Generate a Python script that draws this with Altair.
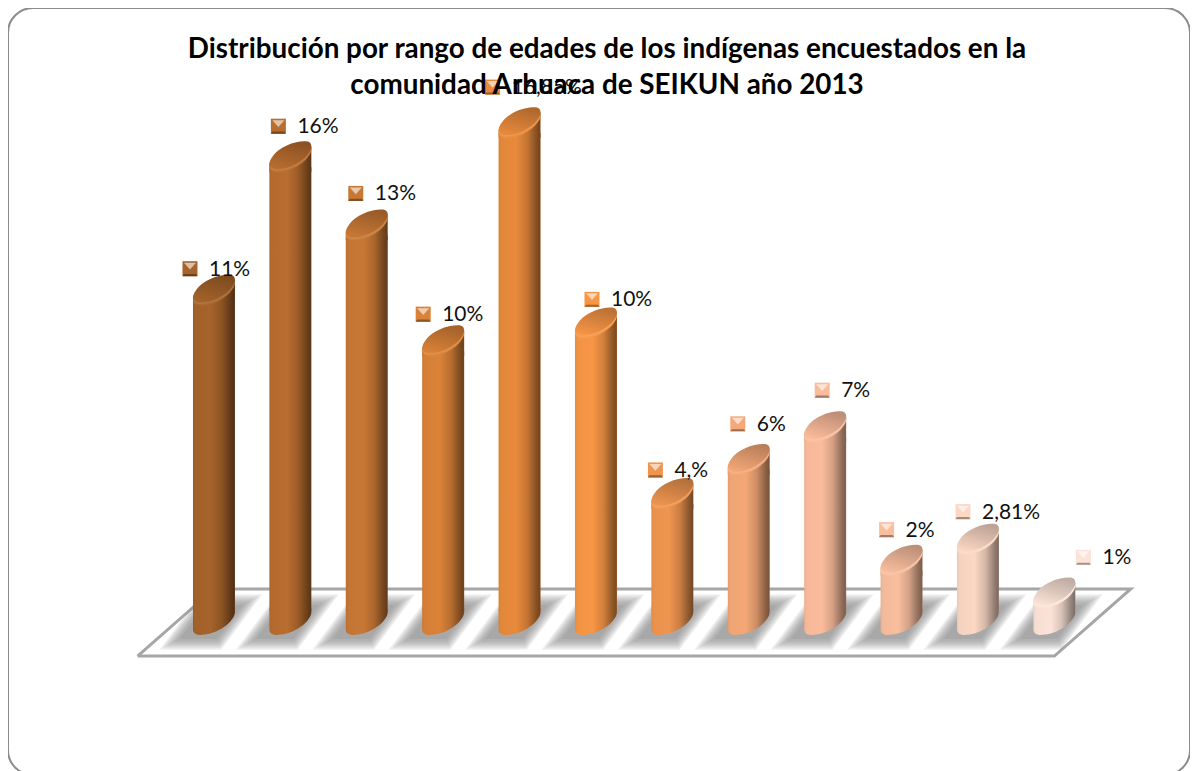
import altair as alt
import pandas as pd

TITLE = ["Distribución por rango de edades de los indígenas  encuestados en la",
         "comunidad Arhuaca de SEIKUN año 2013"]
positions = list(range(12))
values = [11.2, 15.7, 13.4, 9.5, 16.85, 10.1, 4.35, 5.5, 6.6, 2.1, 2.81, 1.0]
labels = ["11%", "16%", "13%", "10%", "16,85%", "10%", "4,%", "6%", "7%", "2%", "2,81%", "1%"]
colors = ["#A6632B", "#B96D2F", "#C87835", "#DA8238", "#E88A3C", "#F79646",
          "#EE954F", "#F4A877", "#FBBC9C", "#F8BE9E", "#FBD7C4", "#FCE3D7"]
label_dx = [-24, -12, -11, -20, -27, -4, -17, -11, -3, -15, -15, 29]
label_dy = [-20, -29, -30, -25, -34, -22, -22, -34, -35, -29, -26, -34]
floor_x = [-1, 11, 12, 0, -1]
floor_y = [-1.18, -1.18, 1.08, 1.08, -1.18]

W, H = 1182, 767
PX_Y = 29.67
xs = alt.Scale(domain=[-2.696, 12.775], nice=False, zero=False, padding=0)
ys = alt.Scale(domain=[(621 - 8 - H) / PX_Y, (621 - 8) / PX_Y], nice=False, zero=False, padding=0)
X = alt.X("pos:Q", scale=xs, axis=None)
Y = alt.Y("val:Q", scale=ys, axis=None)
Y0 = alt.Y("base:Q", scale=ys, axis=None)

df = pd.DataFrame({"pos": positions, "val": values, "base": [0] * 12, "label": labels})
floor = pd.DataFrame({"fx": floor_x, "fy": floor_y, "o": range(5)})

LOWER = "C0.95,0.05 0.2,0.62 -0.55,0.66 C-0.9,0.68 -1,0.55 -1,0.4 Z"
LENS = "M-1,0.4 C-0.9,-0.1 -0.2,-0.62 0.65,-0.66 C0.95,-0.68 1,-0.55 1,-0.4 " + LOWER
BASE = "M-1,-0.6 L1,-0.6 L1,-0.4 " + LOWER
UNDER = "M-1,0.4 L1,-0.4 L1,0.8 L-1,0.8 Z"
SHADOW = "M-1,0.54 L0.2,0.54 L1,-0.54 L-0.2,-0.54 Z"
TRI = "M-0.8,-0.8 L0.8,-0.8 L0,0.1 Z"
BOTTOM = "M-1,1 L1,1 L0.8,0.72 L-0.8,0.72 Z"


def mix(c, f):
    r, g, b = [int(c[i:i + 2], 16) for i in (1, 3, 5)]
    if f <= 1:
        r, g, b = r * f, g * f, b * f
    else:
        t = f - 1
        r, g, b = r + (255 - r) * t, g + (255 - g) * t, b + (255 - b) * t
    return "#%02x%02x%02x" % (int(r), int(g), int(b))


def grad(stops, x2=1, y2=0, x1=0, y1=0):
    return alt.LinearGradient(
        gradient="linear", x1=x1, y1=y1, x2=x2, y2=y2,
        stops=[alt.GradientStop(color=c, offset=o) for o, c in stops],
    )


def body(c):
    return grad([(0, mix(c, 0.93)), (0.06, mix(c, 0.98)), (0.42, c), (0.68, mix(c, 0.85)),
                 (0.9, mix(c, 0.58)), (0.98, mix(c, 0.5)), (1, mix(c, 0.65))])


def sym(shape, fill, size=1764, **kw):
    return alt.Chart(cur).mark_point(shape=shape, size=size, filled=True, fill=fill,
                                     opacity=kw.pop("opacity", 1), strokeWidth=0, **kw)


layers = [
    alt.Chart(floor).mark_line(color="#A6A6A6", strokeWidth=3, strokeJoin="miter").encode(
        x=alt.X("fx:Q", scale=xs, axis=None), y=alt.Y("fy:Q", scale=ys, axis=None),
        order="o:Q")
]

for i in positions:
    cur = df.iloc[[i]]
    for f in (1.1, 1.02, 0.94, 0.86, 0.78, 0.68):
        layers.append(sym(SHADOW, "#707070", size=8649 * f * f, opacity=0.14,
                          xOffset=-3, yOffset=1).encode(x=X, y=Y0))

for i in positions:
    cur = df.iloc[[i]]
    c = colors[i]
    g = body(c)
    layers += [
        sym(BASE, g).encode(x=X, y=Y0),
        alt.Chart(cur).mark_bar(size=42, fill=g, yOffset=12, y2Offset=-10).encode(
            x=X, y=Y, y2=alt.Y2("base:Q")),
        sym(UNDER, g).encode(x=X, y=Y),
        sym(LENS, mix(c, 1.05), yOffset=3).encode(x=X, y=Y),
        sym(LENS, mix(c, 1.12), yOffset=1.5).encode(x=X, y=Y),
        sym(LENS, grad([(0, mix(c, 1.0)), (1, mix(c, 0.76))], x2=0.6, y2=0, y1=1, x1=0.2)).encode(x=X, y=Y),
    ]

for i in positions:
    cur = df.iloc[[i]]
    c = colors[i]
    dx, dy = label_dx[i], label_dy[i]
    off = dict(xOffset=dx, yOffset=dy)
    layers += [
        sym("square", mix(c, 1.0), size=225, **off).encode(x=X, y=Y),
        sym(TRI, mix(c, 1.6), size=225, **off).encode(x=X, y=Y),
        sym(BOTTOM, mix(c, 0.65), size=225, **off).encode(x=X, y=Y),
        alt.Chart(cur).mark_text(align="left", baseline="middle", font="Lato", fontSize=21,
                                 color="#111111", dx=dx + 19, dy=dy + 1).encode(
            x=X, y=Y, text="label:N"),
    ]

chart = alt.layer(*layers).properties(
    width=W, height=H, padding=0, background="white",
    autosize=alt.AutoSizeParams(type="none"),
    title=alt.TitleParams(text=TITLE, font="Lato", fontSize=27.8, fontWeight="bold", color="#000000",
                          anchor="middle", offset=-92, dx=8, lineHeight=36),
).configure_view(stroke="#8C8C8C", strokeWidth=2, cornerRadius=25)

chart.save("out.html", embed_options={"renderer": "svg", "actions": False})
